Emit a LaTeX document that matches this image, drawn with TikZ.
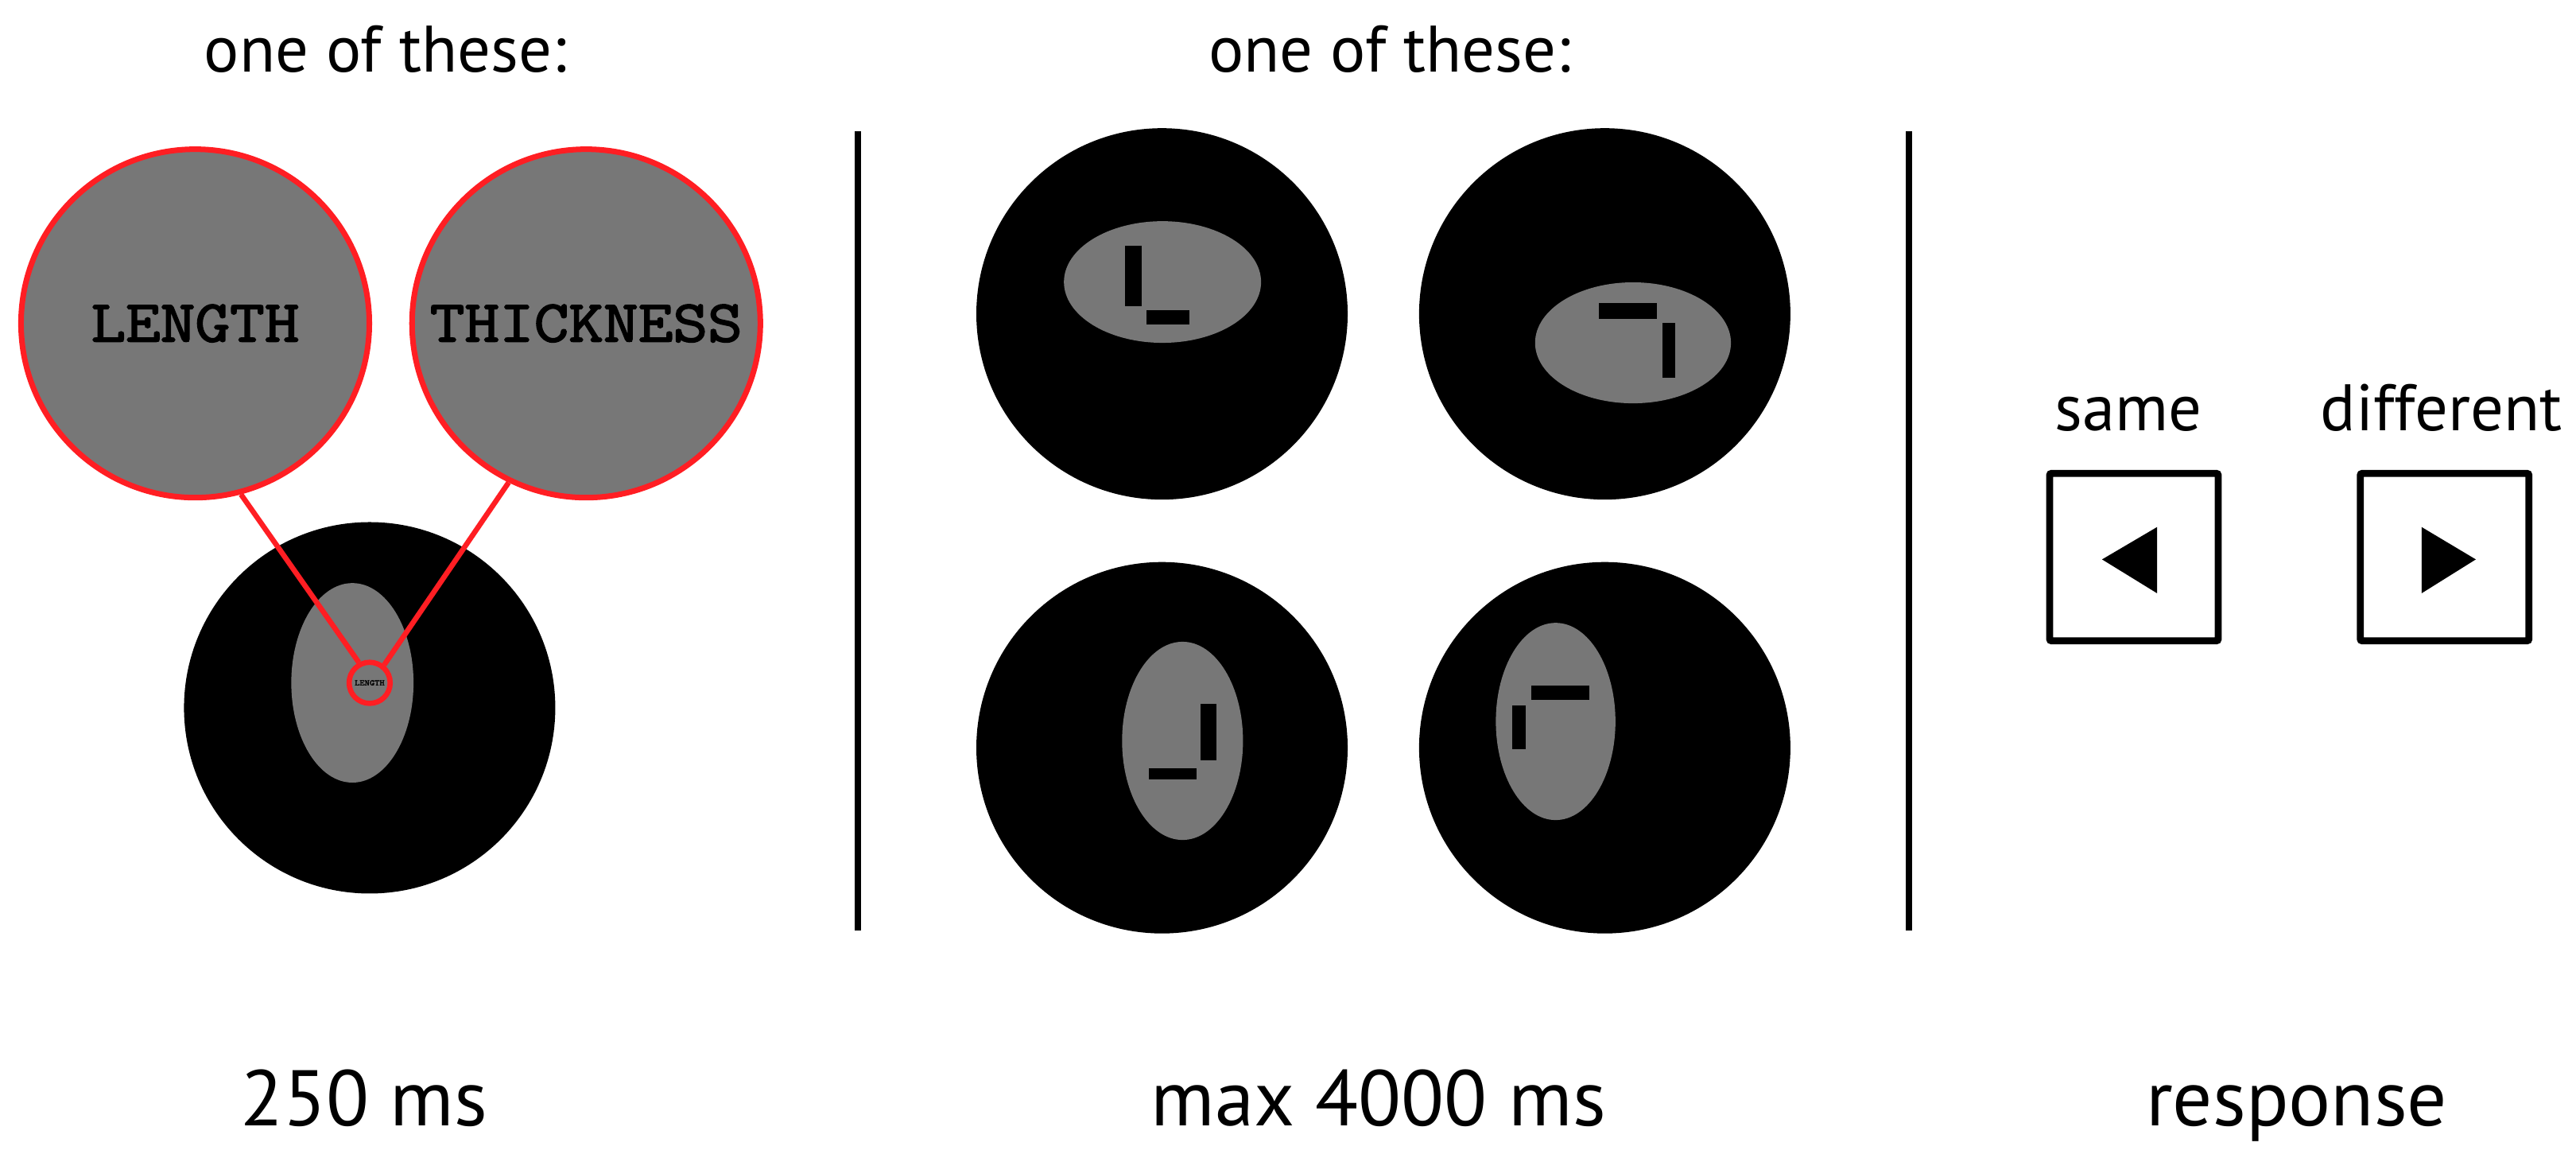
\documentclass[tikz,border=0pt]{standalone}
\usepackage{fontspec}
\setmainfont{PT Sans}
\newfontfamily\stimfont{Latin Modern Mono}[FakeStretch=1.14, FakeBold=2.5]
\definecolor{stimgray}{RGB}{119,119,119}
\definecolor{zoomred}{RGB}{255,30,35}

\begin{document}
\begin{tikzpicture}[x=1pt, y=-1pt,
  zoomcirc/.style={circle, draw=zoomred, fill=stimgray, line width=3.4pt, inner sep=0pt, minimum size=212pt, font=\stimfont\fontsize{36}{36}\selectfont},
  zoomline/.style={zoomred, line width=3.2pt},
  caption/.style={anchor=base, font=\fontsize{40}{40}\selectfont},
  timing/.style={anchor=base, font=\fontsize{48}{48}\selectfont},
  keybox/.style={draw, line width=4.2pt, minimum width=102.6pt, minimum height=101.8pt, rounded corners=1pt, inner sep=0pt},
  divider/.style={line width=4pt}]
%\draw[help lines, color=gray!30] (0,0) grid[step=50] (1568,702);
\useasboundingbox (0,0) rectangle (1568,702);

% first interval
\node[caption] (cue) at (234.5,44) {one of these:};
\fill (225,430.7) circle (113pt);
\fill[stimgray] (214.5,415.5) ellipse [x radius=37.2pt, y radius=60.7pt];
\node[circle, draw=zoomred, line width=3.2pt, minimum size=25pt, inner sep=0pt, font=\stimfont\fontsize{5}{5}\selectfont] (mini) at (225,415.5) {LENGTH};
\node[zoomcirc] (length) at (118.8,196.8) {LENGTH};
\node[zoomcirc] (thickness) at (356.8,196.8) {THICKNESS};
\draw[zoomline] (length.-75) -- (mini.118);
\draw[zoomline] (thickness.-116) -- (mini.51);
\node[timing] (t1) at (221.5,685) {250 ms};

\draw[divider] (522,80) -- (522,566);

% second interval
\node[caption] (probe) at (846,44) {one of these:};
\fill (707.3,191) circle (113pt);
\fill[stimgray] (707.6,171.6) ellipse [x radius=60pt, y radius=37pt];
\fill (684.9,149.6) rectangle (695,186.4);
\fill (698,188.8) rectangle (724,197.5);

\fill (976.8,191) circle (113pt);
\fill[stimgray] (994,208.6) ellipse [x radius=59.6pt, y radius=36.8pt];
\fill (973.4,184.5) rectangle (1008.7,194.2);
\fill (1012,196.6) rectangle (1019.7,230);

\fill (707.3,455) circle (113pt);
\fill[stimgray] (719.8,450.8) ellipse [x radius=36.8pt, y radius=60.3pt];
\fill (730.7,428.4) rectangle (740.6,462.8);
\fill (699.2,467.3) rectangle (728.5,474.2);

\fill (976.8,455) circle (113pt);
\fill[stimgray] (946.9,439) ellipse [x radius=36.4pt, y radius=60pt];
\fill (932.2,417.3) rectangle (967.4,426);
\fill (920.6,429.3) rectangle (928.8,455.7);
\node[timing] (t2) at (839,685) {max 4000 ms};

\draw[divider] (1162,80) -- (1162,566);

% response
\node[caption] (same) at (1295.5,262) {same};
\node[caption] (different) at (1486,262) {different};
\node[keybox] (samekey) at (1298.9,339) {};
\node[keybox] (diffkey) at (1488,339) {};
\fill (1279.5,340.4) -- (1313,320.7) -- (1313,361) -- cycle;
\fill (1507,340.4) -- (1474,320.7) -- (1474,361) -- cycle;
\node[timing] (t3) at (1398,685) {response};
\end{tikzpicture}
\end{document}
